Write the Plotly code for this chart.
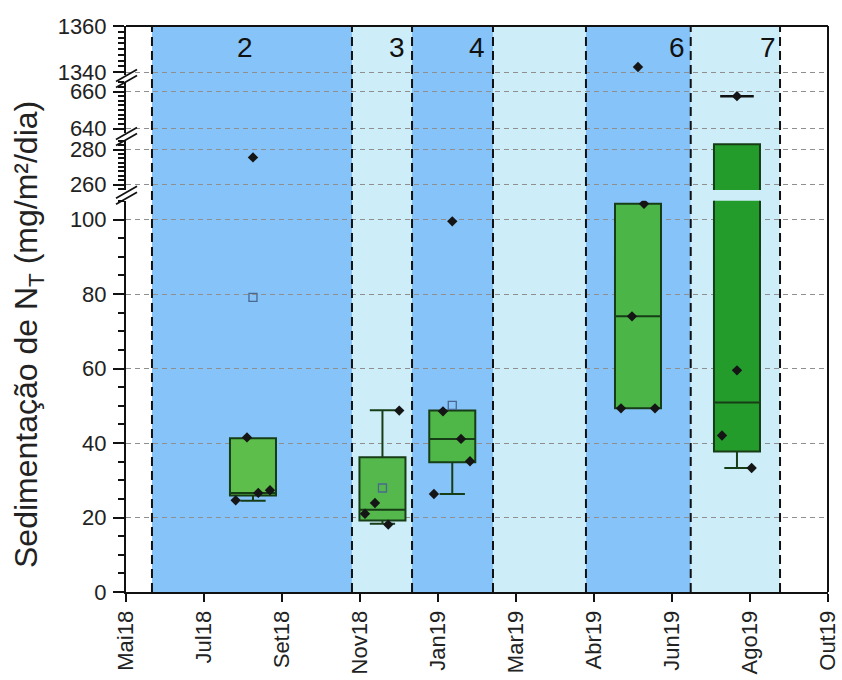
import numpy as np
import plotly.graph_objects as go

# ---------------- data ----------------
x_tick_labels = ["Mai18", "Jul18", "Set18", "Nov18", "Jan19", "Mar19", "Abr19", "Jun19", "Ago19", "Out19"]
x_tick_vals = [0, 1, 2, 3, 4, 5, 6, 7, 8, 9]

season_labels = ["2", "3", "4", "", "6", "7"]
season_bounds = [0.333, 2.897, 3.667, 4.705, 5.897, 7.24, 8.385]
season_label_x = [1.526, 3.474, 4.50, 5.30, 7.064, 8.23]

box_names = ["2", "3", "4", "6", "7"]
box_x = [1.628, 3.288, 4.183, 6.564, 7.833]
q1 = [25.9, 19.2, 34.8, 49.3, 37.7]
median = [26.6, 22.1, 41.1, 74.0, 50.9]
q3 = [41.3, 36.2, 48.7, 104.2, 283.0]
whisker_low = [24.5, 18.3, 26.3, 49.3, 33.3]
whisker_high = [41.3, 48.8, 48.7, 104.2, 283.0]
cap_high = [None, None, None, None, 657.5]

point_values = [
    [41.5, 24.6, 26.6, 27.3, 275.5],
    [48.7, 18.1, 23.9, 21.0],
    [99.5, 48.5, 41.1, 35.1, 26.3],
    [104.2, 74.0, 49.3, 49.3, 1342.2],
    [33.3, 42.0, 59.5, 657.5],
]
point_offsets = [
    [-0.077, -0.222, 0.068, 0.218, 0.0],
    [0.215, 0.074, -0.096, -0.224],
    [0.0, -0.119, 0.112, 0.227, -0.235],
    [0.077, -0.077, -0.218, 0.218, 0.0],
    [0.188, -0.192, 0.0, 0.0],
]

# ---------------- styling / layout ----------------
FONT = "Arial, Liberation Sans, sans-serif"
BLUE = "rgba(113,184,247,0.85)"
CYAN = "#cdeef9"
band_colors = [BLUE, CYAN, BLUE, CYAN, BLUE, CYAN]
band_layers = ["between", "below", "between", "below", "between", "below"]
box_fill = ["#5dbe4b", "#55b84c", "#4fb648", "#4cb548", "#249c2c"]
BOX_LINE = "#173d17"

L, R, T, B = 126, 14, 26, 88
W, H = 842, 680
PH = H - T - B
PW = W - L - R


def py(p):  # pixel y -> paper
    return (H - B - p) / PH


def px(p):  # pixel x -> paper
    return (p - L) / PW


# broken y-axis segments: (axis id, range, domain, tickvals, minor step)
segments = [
    ("y", [0, 105.05], [0, py(200.7)], [0, 20, 40, 60, 80, 100], 5),
    ("y2", [256.86, 285.43], [py(190), py(140)], [260, 280], 2.5),
    ("y3", [637.57, 665.14], [py(133), py(82)], [640, 660], 2.5),
    ("y4", [1338.7, 1360.01], [py(75), 1.0], [1340, 1360], 2.5),
]


def seg_of(v):
    for s in segments:
        if s[1][0] <= v <= s[1][1]:
            return s[0]
    return None


fig = go.Figure()

# boxes (drawn on every segment their span touches)
for i in range(len(box_names)):
    for axid, rng, dom, tv, mdt in segments:
        if whisker_low[i] <= rng[1] and q3[i] >= rng[0]:
            fig.add_trace(go.Box(
                x=[box_x[i]], q1=[q1[i]], median=[median[i]], q3=[q3[i]],
                lowerfence=[whisker_low[i]], upperfence=[whisker_high[i]],
                width=0.59, whiskerwidth=0.55,
                fillcolor=box_fill[i], line=dict(color=BOX_LINE, width=2),
                xaxis="x", yaxis=axid, showlegend=False, hoverinfo="skip",
            ))

# data points, means and caps
for axid, rng, dom, tv, mdt in segments:
    xs, ys = [], []
    mx, my = [], []
    cx, cy = [], []
    for i in range(len(box_names)):
        for v, dx in zip(point_values[i], point_offsets[i]):
            if seg_of(v) == axid:
                xs.append(box_x[i] + dx)
                ys.append(v)
        m = float(np.mean(point_values[i]))
        if seg_of(m) == axid:
            mx.append(box_x[i])
            my.append(m)
        if cap_high[i] is not None and seg_of(cap_high[i]) == axid:
            cx.append(box_x[i])
            cy.append(cap_high[i])
    if cx:
        fig.add_trace(go.Scatter(
            x=cx, y=cy, mode="markers", xaxis="x", yaxis=axid,
            marker=dict(symbol="line-ew", size=24, line=dict(color="#111", width=2.5)),
            showlegend=False, hoverinfo="skip"))
    if xs:
        fig.add_trace(go.Scatter(
            x=xs, y=ys, mode="markers", xaxis="x", yaxis=axid,
            marker=dict(symbol="diamond", size=8, color="#151515"),
            showlegend=False, hoverinfo="skip"))
    if mx:
        fig.add_trace(go.Scatter(
            x=mx, y=my, mode="markers", xaxis="x", yaxis=axid,
            marker=dict(symbol="square-open", size=8, color="#4a6890", line=dict(width=1.3)),
            showlegend=False, hoverinfo="skip"))

shapes = []
# season bands
for k in range(len(season_bounds) - 1):
    shapes.append(dict(type="rect", xref="x", yref="paper",
                       x0=season_bounds[k], x1=season_bounds[k + 1], y0=0, y1=1,
                       fillcolor=band_colors[k], line=dict(width=0), layer=band_layers[k]))
# season boundary dashed lines
for b in season_bounds:
    shapes.append(dict(type="line", xref="x", yref="paper", x0=b, x1=b, y0=0, y1=1,
                       line=dict(color="#111", width=2, dash="9px,5px"), layer="above"))
# top & right frame
shapes.append(dict(type="line", xref="paper", yref="paper", x0=0, x1=1, y0=1, y1=1,
                   line=dict(color="#111", width=2)))
shapes.append(dict(type="line", xref="paper", yref="paper", x0=1, x1=1, y0=0, y1=1,
                   line=dict(color="#111", width=2)))
# axis break marks
for yc in [195.3, 136.5, 78.5]:
    for d in (-3, 3):
        shapes.append(dict(type="line", xref="paper", yref="paper",
                           x0=px(116), y0=py(yc + d + 6), x1=px(137), y1=py(yc + d - 6),
                           line=dict(color="#111", width=1.8)))

annotations = []
for lab, lx in zip(season_labels, season_label_x):
    if lab:
        annotations.append(dict(text=lab, x=lx, y=py(47), xref="x", yref="paper",
                                showarrow=False, font=dict(family=FONT, size=28, color="#111"),
                                xanchor="center", yanchor="middle"))
annotations.append(dict(text="Sedimentação de N<sub>T</sub> (mg/m²/dia)",
                        x=px(28), y=py(335), xref="paper", yref="paper",
                        textangle=-90, showarrow=False,
                        font=dict(family=FONT, size=32, color="#222"),
                        xanchor="center", yanchor="middle"))

layout = dict(
    width=W, height=H,
    margin=dict(l=L, r=R, t=T, b=B, autoexpand=False),
    paper_bgcolor="white", plot_bgcolor="rgba(0,0,0,0)",
    font=dict(family=FONT, size=20, color="#222"),
    showlegend=False,
    shapes=shapes, annotations=annotations,
    boxmode="overlay",
    xaxis=dict(range=[0, 9], tickmode="array", tickvals=x_tick_vals, ticktext=x_tick_labels,
               tickangle=-90, ticks="outside", ticklen=8, tickwidth=2, tickcolor="#111",
               showline=True, linewidth=2, linecolor="#111", showgrid=False, zeroline=False,
               anchor="y", automargin=False,
               tickfont=dict(size=22, family=FONT, color="#222")),
)
for n, (axid, rng, dom, tv, mdt) in enumerate(segments):
    key = "yaxis" if axid == "y" else "yaxis" + axid[1:]
    layout[key] = dict(
        range=rng, domain=dom, anchor="x", automargin=False,
        tickmode="array", tickvals=tv, ticktext=[str(v) for v in tv],
        ticks="outside", ticklen=11, tickwidth=2, tickcolor="#111",
        showline=True, linewidth=2, linecolor="#111",
        showgrid=True, gridcolor="#8f8f8f", gridwidth=1, griddash="5px,4px",
        zeroline=False, tickfont=dict(size=22, family=FONT, color="#222"),
        ticklabelstandoff=2,
        minor=dict(tickmode="linear", tick0=0, dtick=mdt, ticks="outside", ticklen=6,
                   tickwidth=1.5, tickcolor="#111", showgrid=False),
    )

fig.update_layout(**layout)
fig.write_html("out.html")
